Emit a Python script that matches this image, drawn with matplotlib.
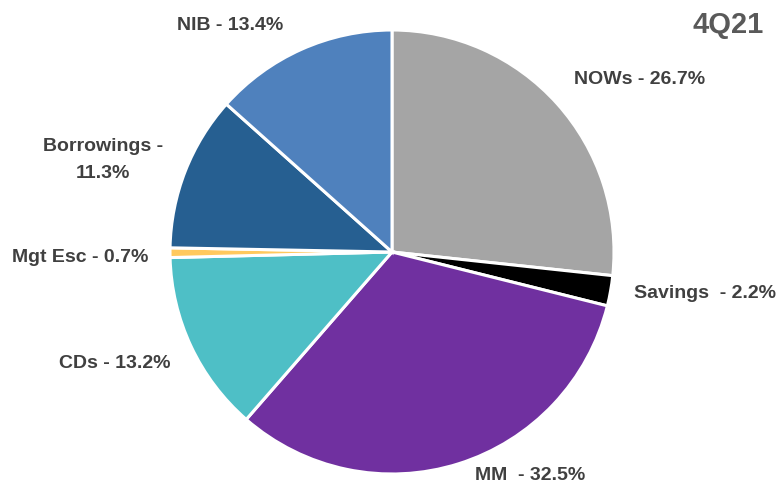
import matplotlib.pyplot as plt

# deposit mix, clockwise from 12 o'clock
names = ["NOWs", "Savings", "MM", "CDs", "Mgt Esc", "Borrowings", "NIB"]
shares = [26.7, 2.2, 32.5, 13.2, 0.7, 11.3, 13.4]
labels = ["NOWs - 26.7%", "Savings  - 2.2%", "MM  - 32.5%", "CDs - 13.2%",
          "Mgt Esc - 0.7%", "Borrowings -\n11.3%", "NIB - 13.4%"]
colors = ["#A5A5A5", "#000000", "#7030A0", "#4EBFC6", "#FFC95E", "#265F91", "#4F81BD"]
period = "4Q21"

# label centres in pixels (x from left, y from top)
label_pos = [(640, 79), (705, 293), (530, 476), (115, 364), (80, 257), (103, 160), (230, 25)]

W, H = 778, 488
fig = plt.figure(figsize=(W / 100, H / 100), dpi=100)

cx, cy, r = 392, 252, 222
ax = fig.add_axes([(cx - r) / W, (H - cy - r) / H, 2 * r / W, 2 * r / H])
ax.pie(shares, colors=colors, startangle=90, counterclock=False, radius=1,
       wedgeprops=dict(edgecolor="white", linewidth=2.2))
ax.set_xlim(-1, 1)
ax.set_ylim(-1, 1)
ax.set_aspect("equal")
ax.axis("off")

font = ["Liberation Sans Narrow", "Liberation Sans", "DejaVu Sans"]
for lab, (x, y) in zip(labels, label_pos):
    fig.text(x / W, 1 - y / H, lab, ha="center", va="center", fontsize=14,
             fontweight="bold", color="#404040", family=font, linespacing=1.75)

fig.text(728 / W, 1 - 25 / H, period, ha="center", va="center", fontsize=21,
         fontweight="bold", color="#595959", family=font)

fig.savefig("out.png", dpi=100)
